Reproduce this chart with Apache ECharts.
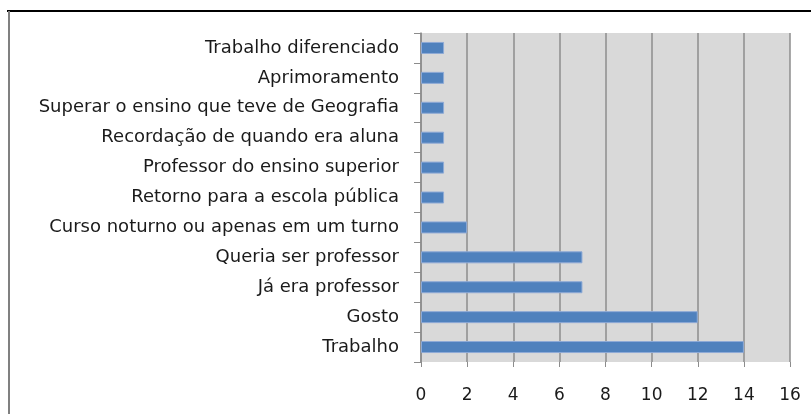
<!DOCTYPE html>
<html>
<head>
<meta charset="utf-8">
<script src="https://cdn.jsdelivr.net/npm/echarts@6/dist/echarts.min.js"></script>
<style>
  html, body { margin: 0; padding: 0; background: #fff; }
  #chart { width: 811px; height: 414px; }
</style>
</head>
<body>
<div id="chart"></div>
<script>
// categories bottom to top, as echarts draws a category yAxis
var categories = [
  'Trabalho',
  'Gosto',
  'Já era professor',
  'Queria ser professor',
  'Curso noturno ou apenas em um turno',
  'Retorno para a escola pública',
  'Professor do ensino superior',
  'Recordação de quando era aluna',
  'Superar o ensino que teve de Geografia',
  'Aprimoramento',
  'Trabalho diferenciado'
];
var values = [14, 12, 7, 7, 2, 1, 1, 1, 1, 1, 1];

var xMin = 0;
var xMax = 16;
var xStep = 2;

var chart = echarts.init(document.getElementById('chart'));

chart.setOption({
  backgroundColor: '#ffffff',
  animation: false,
  textStyle: { fontFamily: 'DejaVu Sans' },
  // chart frame (top and left edges visible in the crop)
  graphic: [
    { type: 'line', shape: { x1: 7, y1: 11, x2: 811, y2: 11 }, style: { stroke: '#000', lineWidth: 2 } },
    { type: 'line', shape: { x1: 9, y1: 11, x2: 9, y2: 414 }, style: { stroke: '#808080', lineWidth: 2 } }
  ],
  grid: {
    left: 421,
    right: 21,
    top: 33,
    bottom: 52,
    show: true,
    backgroundColor: '#d9d9d9',
    borderWidth: 0
  },
  xAxis: {
    type: 'value',
    min: xMin,
    max: xMax,
    interval: xStep,
    axisLine: { show: false },
    axisTick: { show: true, length: 5, lineStyle: { color: '#8c8c8c' } },
    splitLine: { show: true, lineStyle: { color: '#8c8c8c', width: 1.5 } },
    axisLabel: { color: '#1a1a1a', fontSize: 17, fontFamily: 'DejaVu Sans', margin: 25 }
  },
  yAxis: {
    type: 'category',
    data: categories,
    axisLine: { show: true, lineStyle: { color: '#8c8c8c', width: 1.5 } },
    axisTick: { show: true, length: 7, lineStyle: { color: '#8c8c8c' } },
    axisLabel: { color: '#1a1a1a', fontSize: 18, fontFamily: 'DejaVu Sans', margin: 22 }
  },
  series: [{
    type: 'bar',
    data: values,
    barWidth: 12,
    itemStyle: { color: '#4f81bd', borderColor: '#8eaad6', borderWidth: 1 }
  }]
});
</script>
</body>
</html>
